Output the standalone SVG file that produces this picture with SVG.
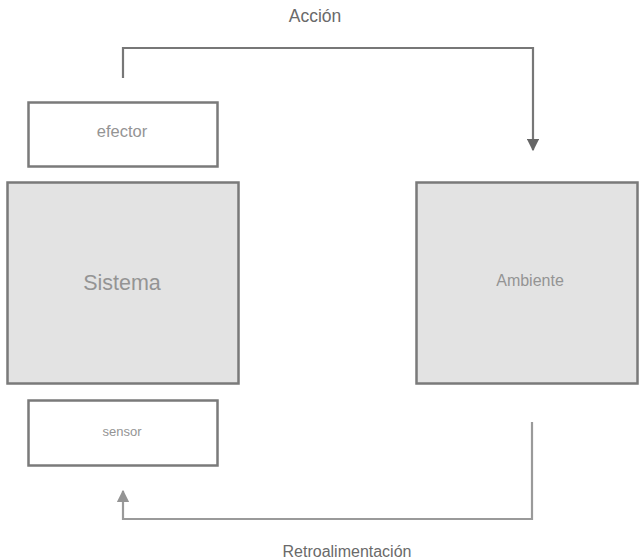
<svg xmlns="http://www.w3.org/2000/svg" width="639" height="560" viewBox="0 0 639 560">
  <style>
    .box { stroke: #7a7a7a; stroke-width: 2.5; }
    .small { fill: #ffffff; }
    .big { fill: #e3e3e3; }
    .lbl { font-family: "Liberation Sans", Arial, sans-serif; fill: #949494; text-anchor: middle; }
    .cap { font-family: "Liberation Sans", Arial, sans-serif; fill: #6a6a6a; text-anchor: middle; }
    .wire { fill: none; stroke-width: 2.2; }
  </style>
  <defs>
    <marker id="headDark" viewBox="0 0 10 10" refX="9" refY="5" markerWidth="5.5" markerHeight="5.5" orient="auto" markerUnits="strokeWidth">
      <path d="M0,0 L10,5 L0,10 z" fill="#666666"/>
    </marker>
    <marker id="headLight" viewBox="0 0 10 10" refX="9" refY="5" markerWidth="5.5" markerHeight="5.5" orient="auto" markerUnits="strokeWidth">
      <path d="M0,0 L10,5 L0,10 z" fill="#949494"/>
    </marker>
  </defs>

  <rect width="639" height="560" fill="#ffffff"/>

  <g id="connectors">
    <path class="wire" stroke="#777777" d="M123,78 V48 H533 V150" marker-end="url(#headDark)"/>
    <path class="wire" stroke="#9a9a9a" d="M532,422 V519 H123 V491" marker-end="url(#headLight)"/>
  </g>

  <g id="efector">
    <rect class="box small" x="28.5" y="102.5" width="189" height="64"/>
    <text class="lbl" x="122" y="137" font-size="16.5">efector</text>
  </g>

  <g id="sistema">
    <rect class="box big" x="7.5" y="182.5" width="231" height="201"/>
    <text class="lbl" x="122" y="290" font-size="21.5">Sistema</text>
  </g>

  <g id="ambiente">
    <rect class="box big" x="416.5" y="182.5" width="221" height="201"/>
    <text class="lbl" x="530" y="286" font-size="16">Ambiente</text>
  </g>

  <g id="sensor">
    <rect class="box small" x="28.5" y="400.5" width="189" height="65"/>
    <text class="lbl" x="122" y="436" font-size="13">sensor</text>
  </g>

  <text class="cap" x="315" y="22" font-size="17.5">Acción</text>
  <text class="cap" x="347" y="557" font-size="16">Retroalimentación</text>
</svg>
